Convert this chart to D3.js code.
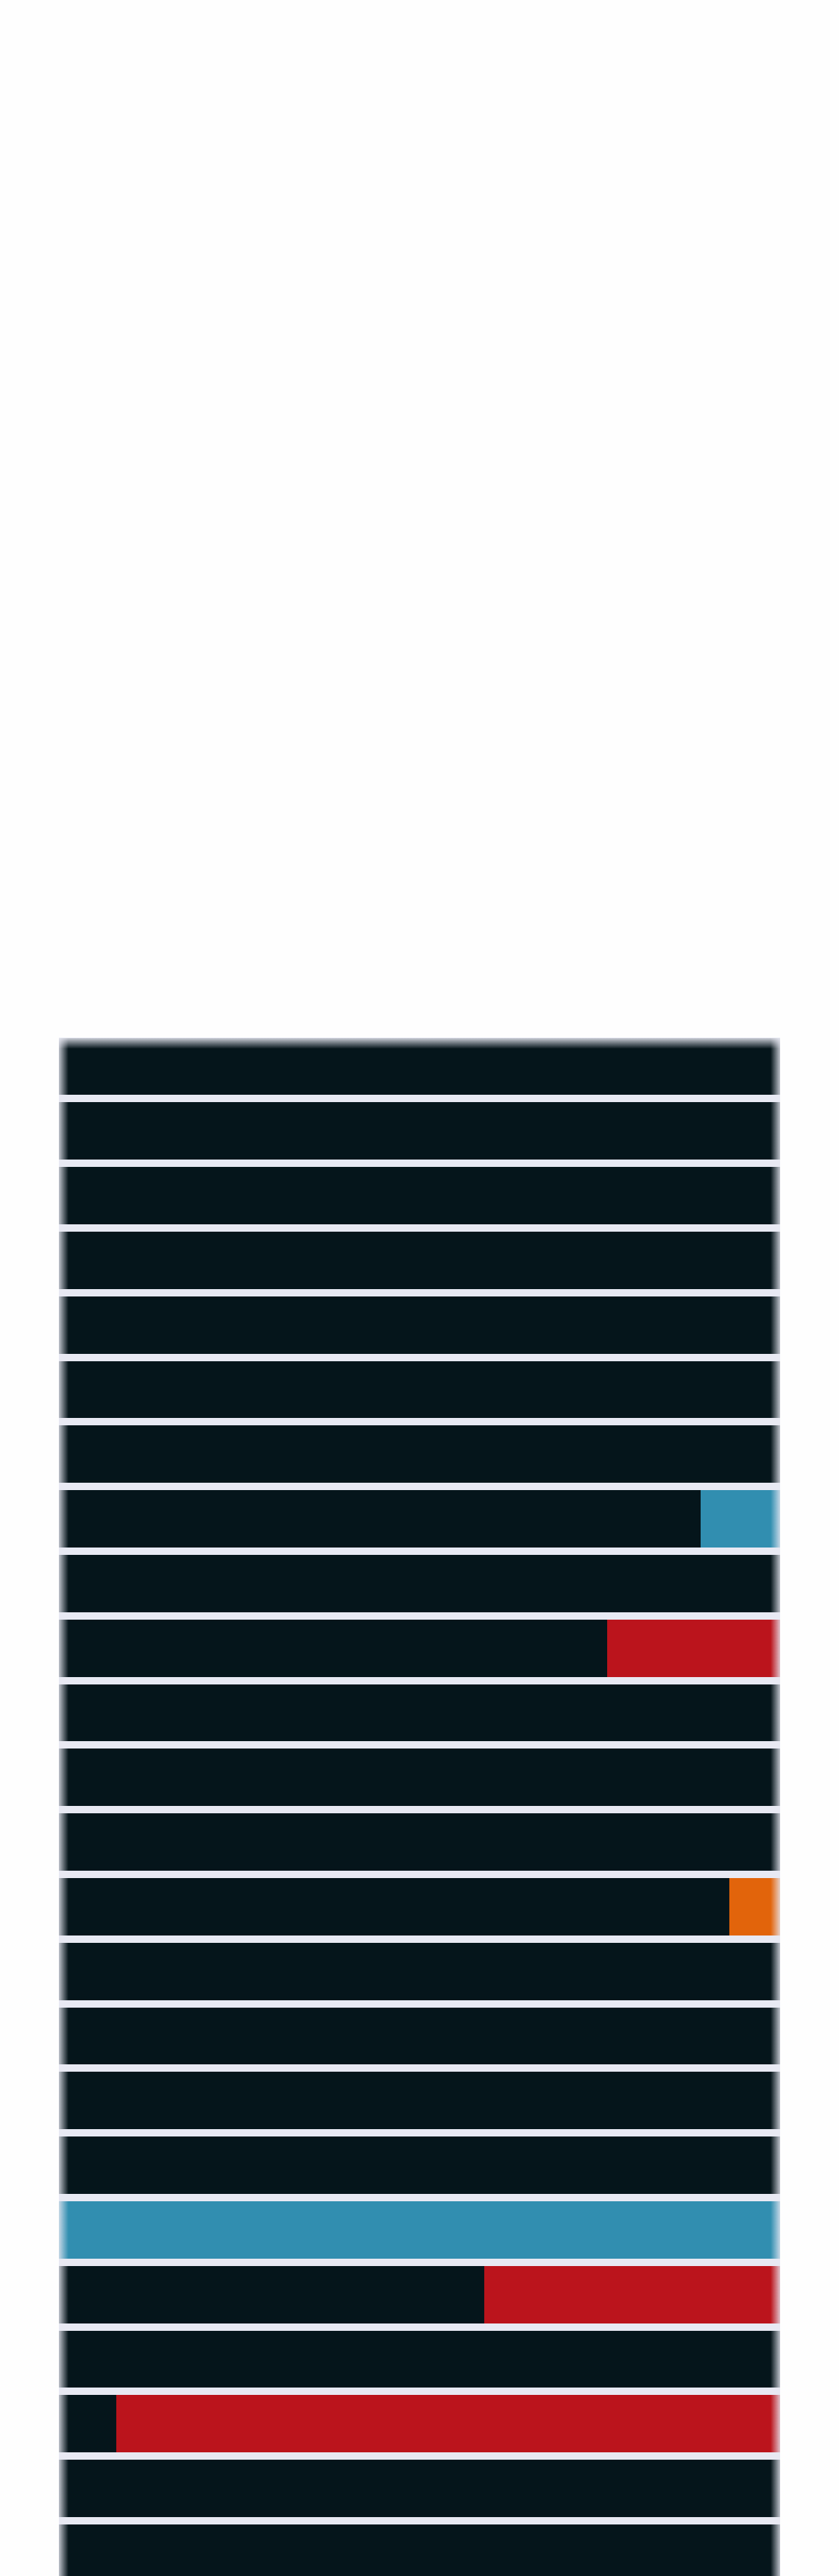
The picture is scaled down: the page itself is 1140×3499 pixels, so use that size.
<!DOCTYPE html>
<html>
<head>
<meta charset="utf-8">
<script src="https://cdn.jsdelivr.net/npm/d3@7"></script>
<style>
  html, body { margin: 0; padding: 0; background: #fefefe; }
  svg { display: block; }
</style>
</head>
<body>
<div id="chart"></div>
<script>
// ---- data ----
const categories = ["1","2","3","4","5","6","7","8","9","10","11","12","13","14","15","16","17","18","19","20","21","22","23","24"];
const darkValues   = [100,100,100,100,100,100,100, 89,100, 76,100,100,100, 93,100,100,100,100,  0, 59,100,  8,100,100];
const blueValues   = [  0,  0,  0,  0,  0,  0,  0, 11,  0,  0,  0,  0,  0,  0,  0,  0,  0,  0,100,  0,  0,  0,  0,  0];
const redValues    = [  0,  0,  0,  0,  0,  0,  0,  0,  0, 24,  0,  0,  0,  0,  0,  0,  0,  0,  0, 41,  0, 92,  0,  0];
const orangeValues = [  0,  0,  0,  0,  0,  0,  0,  0,  0,  0,  0,  0,  0,  7,  0,  0,  0,  0,  0,  0,  0,  0,  0,  0];
const seriesKeys = ["dark", "blue", "red", "orange"];
const xDomain = [0, 100];

(function () {
// ---- layout ----
const W = 1140, H = 3499;
const leftX = 80, rightX = 1060;
const topY = 1409.5, step = 87.8, gap = 10;
const colors = { dark: "#05151b", blue: "#318eb0", red: "#bb141c", orange: "#e2640b" };

const rows = categories.map((c, i) => ({
  cat: c, dark: darkValues[i], blue: blueValues[i], red: redValues[i], orange: orangeValues[i]
}));

const svg = d3.select("#chart").append("svg").attr("width", W).attr("height", H);

const x = d3.scaleLinear().domain(xDomain).range([leftX, rightX]);
const y = d3.scaleBand().domain(categories)
  .range([topY, topY + categories.length * step - gap])
  .paddingInner(gap / step).paddingOuter(0);

const defs = svg.append("defs");
// horizontal fade mask
const gh = defs.append("linearGradient").attr("id", "gh")
  .attr("gradientUnits", "userSpaceOnUse").attr("x1", leftX).attr("x2", rightX).attr("y1", 0).attr("y2", 0);
const fw = 13 / (rightX - leftX);
[[0, 0.18], [fw * 0.5, 0.6], [fw, 1], [1 - fw, 1], [1 - fw * 0.5, 0.6], [1, 0.18]].forEach(([o, v]) =>
  gh.append("stop").attr("offset", o).attr("stop-color", "white").attr("stop-opacity", v));
const gv = defs.append("linearGradient").attr("id", "gv")
  .attr("gradientUnits", "userSpaceOnUse").attr("x1", 0).attr("x2", 0).attr("y1", topY).attr("y2", topY + 15);
gv.append("stop").attr("offset", 0).attr("stop-color", "white").attr("stop-opacity", 0.1);
gv.append("stop").attr("offset", 1).attr("stop-color", "white").attr("stop-opacity", 1);

defs.append("mask").attr("id", "mh").attr("maskUnits", "userSpaceOnUse")
  .attr("x", 0).attr("y", 0).attr("width", W).attr("height", H)
  .append("rect").attr("x", leftX).attr("y", 0).attr("width", rightX - leftX).attr("height", H).attr("fill", "url(#gh)");
defs.append("mask").attr("id", "mv").attr("maskUnits", "userSpaceOnUse")
  .attr("x", 0).attr("y", 0).attr("width", W).attr("height", H)
  .append("rect").attr("x", 0).attr("y", topY).attr("width", W).attr("height", H - topY).attr("fill", "url(#gv)");

// background band (visible in the gaps)
svg.append("rect")
  .attr("x", x(xDomain[0])).attr("y", y.range()[0])
  .attr("width", x(xDomain[1]) - x(xDomain[0])).attr("height", H - y.range()[0])
  .attr("fill", "#e8e9f3");

const stacked = d3.stack().keys(seriesKeys)(rows);

const g = svg.append("g").attr("mask", "url(#mv)").append("g").attr("mask", "url(#mh)");
g.selectAll("g.series").data(stacked).join("g")
  .attr("class", "series")
  .attr("fill", d => colors[d.key])
  .selectAll("rect").data(d => d.filter(s => s[1] - s[0] > 0)).join("rect")
  .attr("x", d => x(d[0]))
  .attr("y", d => y(d.data.cat))
  .attr("width", d => x(d[1]) - x(d[0]))
  .attr("height", y.bandwidth())
  .attr("shape-rendering", "crispEdges");
})();
</script>
</body>
</html>
